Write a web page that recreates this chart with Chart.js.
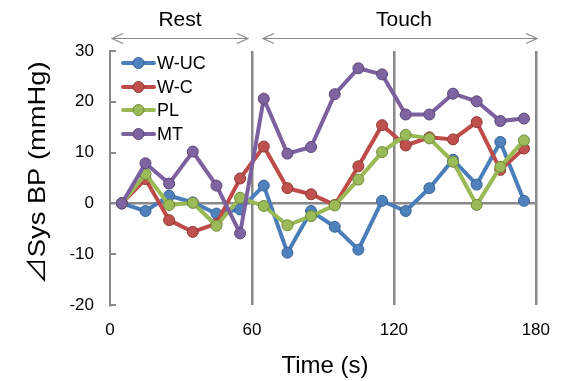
<!DOCTYPE html>
<html>
<head>
<meta charset="utf-8">
<script src="https://cdn.jsdelivr.net/npm/chart.js"></script>
<style>
  html, body { margin: 0; padding: 0; background: #fff; }
  #wrap { width: 565px; height: 381px; }
</style>
</head>
<body>
<div id="wrap"><canvas id="grafico" width="565" height="381"></canvas></div>
<script>
const tempos = [5, 15, 25, 35, 45, 55, 65, 75, 85, 95, 105, 115, 125, 135, 145, 155, 165, 175];
const wUC = [0, -1.5, 1.5, 0.2, -2.0, -1.2, 3.5, -9.7, -1.5, -4.6, -9.1, 0.5, -1.5, 3.0, 8.6, 3.7, 12.1, 0.5];
const wC  = [0, 4.8, -3.3, -5.6, -4.0, 4.9, 11.2, 3.0, 1.8, -0.3, 7.3, 15.4, 11.4, 13.0, 12.6, 16.0, 6.6, 10.8];
const pl  = [0, 5.8, -0.3, 0.1, -4.4, 1.1, -0.5, -4.3, -2.5, -0.4, 4.7, 10.1, 13.5, 12.8, 8.2, -0.3, 7.2, 12.4];
const mt  = [0, 7.9, 3.9, 10.2, 3.5, -5.9, 20.6, 9.8, 11.1, 21.5, 26.6, 25.4, 17.5, 17.5, 21.6, 20.1, 16.2, 16.7];
const xTicks = [0, 60, 120, 180];
const yTicks = [-20, -10, 0, 10, 20, 30];

const series = [
  { nome: 'W-UC', dados: wUC, linha: '#4A7EBB', fundo: '#4F81BD', borda: '#3A6595' },
  { nome: 'W-C',  dados: wC,  linha: '#BE4B48', fundo: '#C0504D', borda: '#8E3A38' },
  { nome: 'PL',   dados: pl,  linha: '#98B954', fundo: '#9BBB59', borda: '#708A3E' },
  { nome: 'MT',   dados: mt,  linha: '#7D60A0', fundo: '#8064A2', borda: '#5B4676' }
];

const cinza = '#898989';

// legenda, titulos e setas desenhados a mao
const extras = {
  id: 'extras',
  afterDraw(chart) {
    const ctx = chart.ctx;
    const area = chart.chartArea;
    const sx = chart.scales.x, sy = chart.scales.y;
    ctx.save();

    // ticks internos do eixo y
    ctx.strokeStyle = cinza;
    ctx.lineWidth = 2;
    yTicks.forEach(v => {
      const y = Math.round(sy.getPixelForValue(v));
      ctx.beginPath();
      ctx.moveTo(area.left, y);
      ctx.lineTo(area.left + 6, y);
      ctx.stroke();
    });

    // legenda
    const ys = [63, 87, 110, 134];
    series.forEach((s, i) => {
      const y = ys[i];
      ctx.strokeStyle = s.linha;
      ctx.lineWidth = 4;
      ctx.lineCap = 'round';
      ctx.beginPath();
      ctx.moveTo(123, y);
      ctx.lineTo(154, y);
      ctx.stroke();
      ctx.beginPath();
      ctx.arc(138.5, y, 5.5, 0, Math.PI * 2);
      ctx.fillStyle = s.fundo;
      ctx.fill();
      ctx.lineWidth = 1;
      ctx.strokeStyle = s.borda;
      ctx.stroke();
      ctx.fillStyle = '#000';
      ctx.font = '18px "Liberation Sans", Arial, sans-serif';
      ctx.textAlign = 'left';
      ctx.textBaseline = 'middle';
      ctx.fillText(s.nome, 157, y + 1);
    });

    // Rest / Touch
    ctx.fillStyle = '#000';
    ctx.font = '21px "Liberation Sans", Arial, sans-serif';
    ctx.textAlign = 'center';
    ctx.textBaseline = 'middle';
    ctx.fillText('Rest', 180, 20);
    ctx.fillText('Touch', 404, 20);

    // setas duplas
    ctx.strokeStyle = '#8a8a8a';
    ctx.lineWidth = 1.2;
    ctx.lineCap = 'butt';
    [[112, 248], [263, 537]].forEach(([a, b]) => {
      const y = 38.5;
      ctx.beginPath();
      ctx.moveTo(a, y); ctx.lineTo(b, y);
      ctx.moveTo(a + 11, y - 5); ctx.lineTo(a, y); ctx.lineTo(a + 11, y + 5);
      ctx.moveTo(b - 11, y - 5); ctx.lineTo(b, y); ctx.lineTo(b - 11, y + 5);
      ctx.stroke();
    });

    // titulo eixo x
    ctx.font = '24px "Liberation Sans", Arial, "Noto Sans CJK JP", sans-serif';
    ctx.textAlign = 'center';
    ctx.textBaseline = 'middle';
    ctx.fillText('Time (s)', 325, 366);

    // titulo eixo y
    ctx.save();
    ctx.translate(38, 173);
    ctx.rotate(-Math.PI / 2);
    ctx.font = '24px "Liberation Sans", Arial, "Noto Sans CJK JP", sans-serif';
    const txt = '⊿Sys BP (mmHg)';
    const w = ctx.measureText(txt).width;
    ctx.scale(223 / w, 1);
    ctx.fillText(txt, 0, 0);
    ctx.restore();

    ctx.restore();
  }
};

new Chart(document.getElementById('grafico'), {
  type: 'scatter',
  data: {
    datasets: series.map((s, i) => ({
      label: s.nome,
      data: tempos.map((t, k) => ({ x: t, y: s.dados[k] })),
      showLine: true,
      borderColor: s.linha,
      borderWidth: 4,
      backgroundColor: s.fundo,
      pointBackgroundColor: s.fundo,
      pointBorderColor: s.borda,
      pointBorderWidth: 1,
      pointRadius: 5.5,
      tension: 0,
      order: series.length - i
    }))
  },
  options: {
    responsive: false,
    animation: false,
    layout: { padding: { top: 51, right: 25, left: 0, bottom: 0 } },
    plugins: {
      legend: { display: false },
      tooltip: { enabled: false }
    },
    scales: {
      x: {
        type: 'linear',
        min: 0,
        max: 180,
        afterBuildTicks: sc => { sc.ticks = xTicks.map(v => ({ value: v })); },
        afterFit: sc => { sc.height = 76; },
        grid: {
          drawTicks: false,
          lineWidth: 2.5,
          color: c => (c.tick && c.tick.value === 0 ? 'rgba(0,0,0,0)' : cinza)
        },
        border: { display: false },
        ticks: {
          padding: 15,
          color: '#000',
          font: { family: '"Liberation Sans", Arial, sans-serif', size: 17 }
        }
      },
      y: {
        min: -20,
        max: 30,
        afterBuildTicks: sc => { sc.ticks = yTicks.map(v => ({ value: v })); },
        afterFit: sc => { sc.width = 110; },
        grid: {
          drawTicks: false,
          lineWidth: 2.5,
          color: c => (c.tick && c.tick.value === 0 ? cinza : 'rgba(0,0,0,0)')
        },
        border: { display: true, color: cinza, width: 2 },
        ticks: {
          padding: 16,
          color: '#000',
          font: { family: '"Liberation Sans", Arial, sans-serif', size: 17 }
        }
      }
    }
  },
  plugins: [extras]
});
</script>
</body>
</html>
